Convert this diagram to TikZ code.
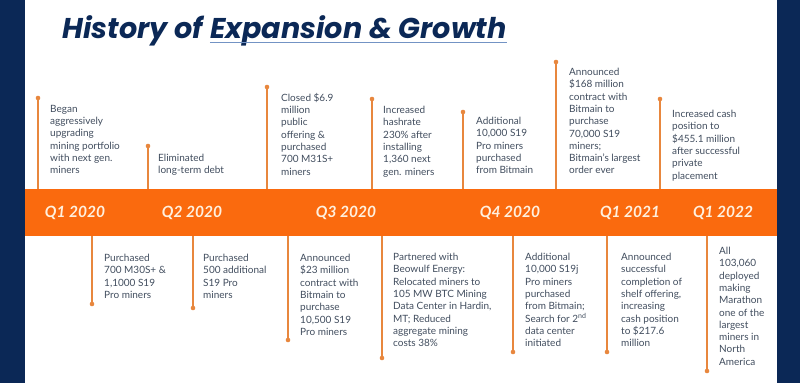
\documentclass[tikz,border=0pt]{standalone}
\usepackage{fontspec}
\setmainfont{Lato}
\newfontfamily\titlefont{Poppins}
\usepackage{xcolor}
\usetikzlibrary{positioning}

\definecolor{navy}{HTML}{0B2856}
\definecolor{bandorange}{HTML}{FA6A0E}
\definecolor{stemorange}{HTML}{E8873E}
\definecolor{bodytext}{HTML}{414D5E}
\definecolor{qcream}{HTML}{FFF0DE}
\definecolor{ulblue}{HTML}{7393C4}

\begin{document}
\begin{tikzpicture}[x=1pt,y=-1pt,
    stemline/.style={draw=stemorange,line width=1.4pt},
    stemdot/.style={circle,fill=stemorange,inner sep=0pt,minimum size=4.6pt},
    eventtext/.style={anchor=north west,inner sep=0pt,align=left,text=bodytext,
      font=\fontsize{10}{12.3}\selectfont},
    qlabel/.style={text=qcream,inner sep=0pt,font=\fontsize{15.5}{16}\selectfont\bfseries\itshape},
    titletext/.style={inner sep=0pt,text=navy,font=\titlefont\fontsize{28.6}{30}\selectfont\bfseries\itshape}]
   \useasboundingbox (0,0) rectangle (800,383);
   \fill[navy] (0,0) rectangle (25,383);
   \fill[navy] (777,0) rectangle (800,383);

   % title
   \node[titletext,anchor=base west] (title) at (62,38) {History of};
   \node[titletext,base right=7pt of title] (titleul) {Expansion \& Growth};
   \draw[ulblue,line width=1.8pt] ([yshift=-4.5pt]titleul.base west) -- ([yshift=-4.5pt]titleul.base east);

   % the orange band
   \node[fill=bandorange,minimum width=752pt,minimum height=47pt,inner sep=0pt] (band) at (401,212.5) {};
   \foreach \x/\q [count=\i] in {75/Q1 2020, 192/Q2 2020, 346/Q3 2020, 510/Q4 2020, 630/Q1 2021, 723/Q1 2022} % edit here for the quarters
     \node[qlabel] (q\i) at (\x,213) {\q};

   % events above the band: stem x / dot y / text x / text y / text
   \foreach \x/\y/\tx/\ty/\txt [count=\i] in {
       38/98/50/105/{Began\\aggressively\\upgrading\\mining portfolio\\with next gen.\\miners},
       148/146/158/154/{Eliminated\\long-term debt},
       267/87/281/93/{Closed \$6.9\\million\\public\\offering \&\\purchased\\700 M31S+\\miners},
       372/99/383/106/{Increased\\hashrate\\230\% after\\installing\\1,360 next\\gen. miners},
       463/112/476/117/{Additional\\10,000 S19\\Pro miners\\purchased\\from Bitmain},
       556/62/569/68/{Announced\\\$168 million\\contract with\\Bitmain to\\purchase\\70,000 S19\\miners;\\Bitmain's largest\\order ever},
       660/99/672/110/{Increased cash\\position to\\\$455.1 million\\after successful\\private\\placement}} {
     \node[stemdot] (t\i) at (\x,\y) {};
     \draw[stemline] (t\i.center) -- (t\i |- band.north);
     \node[eventtext] (tt\i) at (\tx,\ty) {\txt};
   }

   % events below the band
   \foreach \x/\y/\tx/\ty/\txt [count=\i] in {
       92/304/104/254/{Purchased\\700 M30S+ \&\\1,1000 S19\\Pro miners},
       193/308/203/254/{Purchased\\500 additional\\S19 Pro\\miners},
       288/340/300/254/{Announced\\\$23 million\\contract with\\Bitmain to\\purchase\\10,500 S19\\Pro miners},
       382/358/393/253/{Partnered with\\Beowulf Energy:\\Relocated miners to\\105 MW BTC Mining\\Data Center in Hardin,\\MT; Reduced\\aggregate mining\\costs 38\%},
       513/352/525/253/{Additional\\10,000 S19j\\Pro miners\\purchased\\from Bitmain;\\Search for 2\textsuperscript{nd}\\data center\\initiated},
       607/352/621/253/{Announced\\successful\\completion of\\shelf offering,\\increasing\\cash position\\to \$217.6\\million},
       707/371/719/247/{All\\103,060\\deployed\\making\\Marathon\\one of the\\largest\\miners in\\North\\America}} {
     \node[stemdot] (b\i) at (\x,\y) {};
     \draw[stemline] (b\i.center) -- (b\i |- band.south);
     \node[eventtext] (bt\i) at (\tx,\ty) {\txt};
   }
\end{tikzpicture}
\end{document}
